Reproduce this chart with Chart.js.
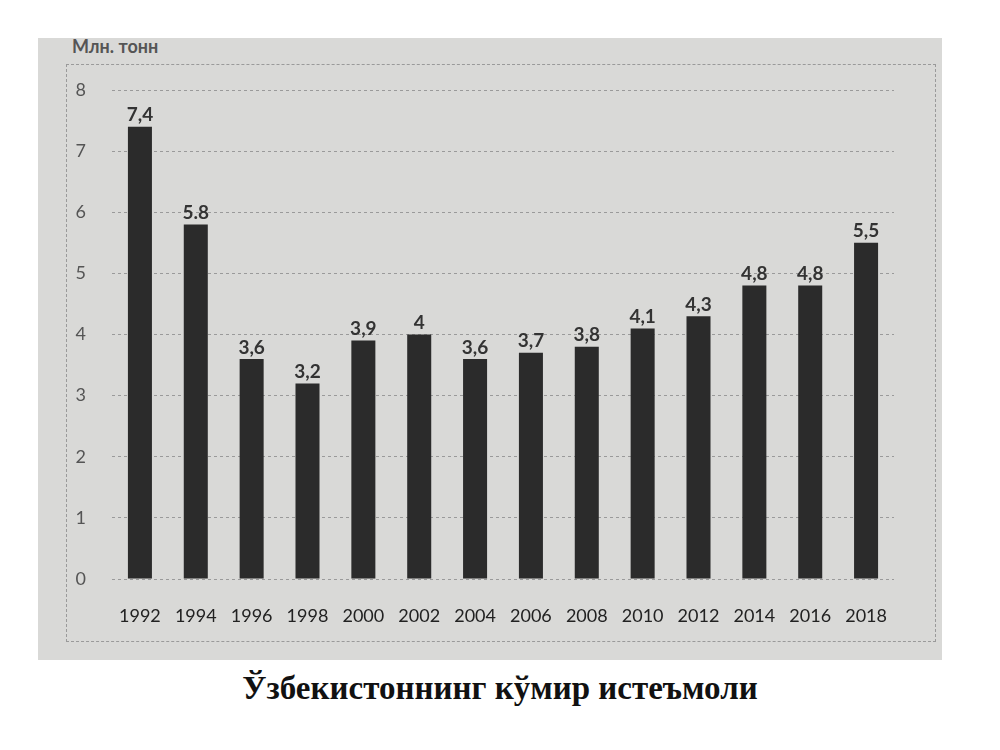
<!DOCTYPE html>
<html>
<head>
<meta charset="utf-8">
<script src="https://cdn.jsdelivr.net/npm/chart.js@4.4.0/dist/chart.umd.min.js"></script>
<style>
  body { margin: 0; background: #fff; width: 1000px; height: 750px; overflow: hidden; font-family: Lato, "Open Sans", sans-serif; }
  #photo { position: absolute; left: 38px; top: 38px; width: 904px; height: 622px; background: #d9d9d7; }
  #frame { position: absolute; left: 66px; top: 64px; width: 868px; height: 576px; border: 1px dashed #9a9a9a; }
  #wrap { position: absolute; left: 0; top: 0; width: 1000px; height: 660px; }
  #unit { position: absolute; left: 72px; top: 35px; font: bold 18px Lato, sans-serif; color: #555; }
  #caption { position: absolute; left: 0; width: 1000px; top: 670px; text-align: center;
             font: bold 33px "Liberation Serif", "DejaVu Serif", serif; color: #111; }
</style>
</head>
<body>
<div id="photo"></div>
<div id="frame"></div>
<div id="unit">Млн. тонн</div>
<div id="wrap"><canvas id="coalChart"></canvas></div>
<div id="caption">Ўзбекистоннинг кўмир истеъмоли</div>
<script>
// years on the x axis
const years = ['1992', '1994', '1996', '1998', '2000', '2002', '2004', '2006', '2008', '2010', '2012', '2014', '2016', '2018'];
// coal consumption, mln tonnes
const consumption = [7.4, 5.8, 3.6, 3.2, 3.9, 4, 3.6, 3.7, 3.8, 4.1, 4.3, 4.8, 4.8, 5.5];
// labels printed above the bars (as in the source, one uses a dot)
const valueLabels = ['7,4', '5.8', '3,6', '3,2', '3,9', '4', '3,6', '3,7', '3,8', '4,1', '4,3', '4,8', '4,8', '5,5'];

const barLabels = {
    id: 'barLabels',
    afterDatasetsDraw(chart) {
        const ctx = chart.ctx;
        const bars = chart.getDatasetMeta(0).data;
        ctx.save();
        ctx.font = 'bold 19px Lato, sans-serif';
        ctx.fillStyle = '#333';
        ctx.textAlign = 'center';
        ctx.textBaseline = 'bottom';
        bars.forEach((bar, i) => {
            ctx.fillText(valueLabels[i], bar.x, bar.y - 2);
        });
        ctx.restore();
    }
};

const ctx = document.getElementById('coalChart').getContext('2d');
new Chart(ctx, {
    type: 'bar',
    data: {
        labels: years,
        datasets: [{
            data: consumption,
            backgroundColor: '#2b2b2b',
            barPercentage: 0.86,
            categoryPercentage: 0.5
        }]
    },
    options: {
        responsive: true,
        maintainAspectRatio: false,
        animation: false,
        layout: { padding: { left: 60, right: 106, top: 90, bottom: 20 } },
        plugins: {
            legend: { display: false },
            tooltip: { enabled: false }
        },
        scales: {
            x: {
                grid: { display: false },
                border: { display: false },
                ticks: { color: '#222', font: { size: 18, family: 'Lato' }, padding: 18, maxRotation: 0 },
                afterFit(scale) { scale.height = 61; }
            },
            y: {
                min: 0,
                max: 8,
                grid: { color: '#9a9a9a', lineWidth: 1, tickLength: 0 },
                border: { display: false, dash: [3, 3] },
                ticks: { stepSize: 1, color: '#555', font: { size: 18, family: 'Lato' }, padding: 26 },
                afterFit(scale) { scale.width = 52; }
            }
        }
    },
    plugins: [barLabels]
});
</script>
</body>
</html>
